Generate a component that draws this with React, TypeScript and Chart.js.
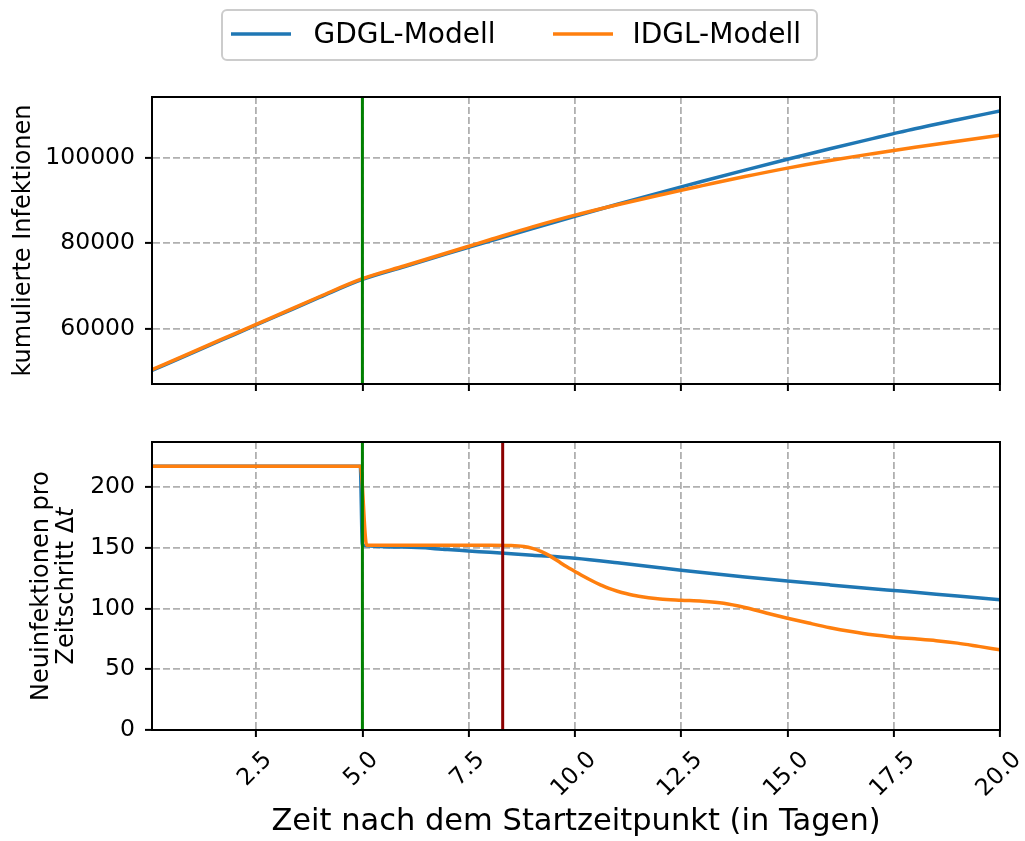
import React, { useEffect, useRef } from "react";
import { Chart, registerables } from "chart.js";

Chart.register(...registerables);

// ---------- data ----------
const X_MIN = 0.05;
const X_MAX = 20;
const X_TICKS = [2.5, 5, 7.5, 10, 12.5, 15, 17.5, 20];

const TOP_Y_MIN = 47070;
const TOP_Y_MAX = 114270;
const TOP_Y_TICKS = [60000, 80000, 100000];

const BOT_Y_MIN = 0;
const BOT_Y_MAX = 237;
const BOT_Y_TICKS = [0, 50, 100, 150, 200];

const SERIES_NAMES = ["GDGL-Modell", "IDGL-Modell"];
const SERIES_COLORS = ["#1f77b4", "#ff7f0e"];

const MARKER_X = [5, 8.3];
const MARKER_COLORS = ["#008000", "#8b0000"];

const X_TITLE = "Zeit nach dem Startzeitpunkt (in Tagen)";
const TOP_Y_TITLE = "kumulierte Infektionen";
const BOT_Y_TITLE_1 = "Neuinfektionen pro";
const BOT_Y_TITLE_2 = ["Zeitschritt Δ", "t"]; // second part in italic (math)

// cumulative infections
const CUM_X = [0.05, 1, 2, 2.5, 3, 4, 5, 6, 7, 7.5, 8, 9, 10, 11, 12, 12.5, 13, 14, 15, 16, 17, 17.5, 18, 19, 20];
const CUM_GDGL = [50250, 54370, 58710, 60880, 63050, 67390, 71560, 74590, 77590, 79080, 80560, 83470, 86350, 89160, 91890, 93230, 94550, 97140, 99680, 102150, 104520, 105700, 106850, 108950, 111000];
const CUM_IDGL = [50420, 54540, 58880, 61050, 63220, 67560, 71720, 74760, 77800, 79320, 80840, 83850, 86600, 89050, 91330, 92450, 93520, 95640, 97620, 99400, 101000, 101760, 102480, 103900, 105300];

// new infections per time step
const RATE_GDGL_X = [0.05, 4.95, 5.0, 6, 7, 7.5, 8, 9, 10, 11, 12, 12.5, 13, 14, 15, 16, 17, 17.5, 18, 19, 20];
const RATE_GDGL = [217, 217, 152, 150.5, 148.5, 147.3, 146.2, 143.8, 141.3, 137.6, 133.5, 131.5, 129.6, 126, 122.6, 119.4, 116.3, 114.8, 113.3, 110.2, 107.2];
const RATE_IDGL_X = [0.05, 4.95, 5.1, 6, 7, 8, 8.5, 8.8, 9.0, 9.2, 9.4, 9.6, 9.8, 10, 10.2, 10.4, 10.6, 10.8, 11, 11.2, 11.5, 12, 12.5, 13, 13.5, 14, 14.5, 15, 15.5, 16, 16.5, 17, 17.5, 18, 18.5, 19, 19.5, 20];
const RATE_IDGL = [217, 217, 152, 152, 152, 152, 151.8, 151, 149.5, 147, 143.5, 139, 134.5, 130.5, 126.5, 122.8, 119.5, 116.5, 114.2, 112.3, 110, 107.8, 106.8, 106, 104.3, 100.8, 96.3, 92, 88, 84.2, 81, 78.3, 76.4, 75, 73.5, 71.5, 68.8, 66];

// ---------- helpers ----------
const FONT = "'DejaVu Sans', sans-serif";
const TICK_SIZE = 23.5;
const LABEL_SIZE = 24;

const zip = (xs: number[], ys: number[]) => xs.map((x, i) => ({ x, y: ys[i] }));

const framePlugin = {
  id: "frame",
  afterDraw(chart: any) {
    const { ctx, chartArea: a } = chart;
    ctx.save();
    ctx.strokeStyle = "#000";
    ctx.lineWidth = 2;
    ctx.strokeRect(a.left, a.top, a.right - a.left, a.bottom - a.top);
    ctx.restore();
  },
};

const legendPlugin = {
  id: "figLegend",
  afterDraw(chart: any) {
    const ctx = chart.ctx;
    const items = chart.data.datasets.filter((d: any) => d.label);
    ctx.save();
    ctx.beginPath();
    ctx.roundRect(222, 10, 595, 50, 5);
    ctx.fillStyle = "rgba(255,255,255,0.8)";
    ctx.fill();
    ctx.strokeStyle = "#cccccc";
    ctx.lineWidth = 2;
    ctx.stroke();
    const lineX = [231, 553];
    const textX = [313.5, 632.5];
    items.forEach((d: any, i: number) => {
      ctx.beginPath();
      ctx.strokeStyle = d.borderColor;
      ctx.lineWidth = 3.5;
      ctx.moveTo(lineX[i], 34);
      ctx.lineTo(lineX[i] + 60, 34);
      ctx.stroke();
      ctx.fillStyle = "#000";
      ctx.font = `28px ${FONT}`;
      ctx.textBaseline = "alphabetic";
      ctx.textAlign = "left";
      ctx.fillText(d.label, textX[i], 43.3);
    });
    ctx.restore();
  },
};

// x tick labels rotated 45° about their centre (matplotlib style)
const xTickLabelPlugin = {
  id: "xTickLabels",
  afterDraw(chart: any) {
    const { ctx, chartArea } = chart;
    const scale = chart.scales.x;
    ctx.save();
    ctx.font = `${TICK_SIZE}px ${FONT}`;
    ctx.fillStyle = "#000";
    ctx.textAlign = "center";
    ctx.textBaseline = "middle";
    const h = TICK_SIZE;
    const yTop = chartArea.bottom + 17.7;
    X_TICKS.forEach((v) => {
      const label = v.toFixed(1);
      const w = ctx.measureText(label).width;
      const cx = scale.getPixelForValue(v) - 1;
      const cy = yTop + (w + h) * Math.SQRT1_2 / 2;
      ctx.save();
      ctx.translate(cx, cy);
      ctx.rotate(-Math.PI / 4);
      ctx.fillText(label, 0, 0);
      ctx.restore();
    });
    ctx.restore();
  },
};

// two-line y label of the lower panel, with italic t
const botYLabelPlugin = {
  id: "botYLabel",
  afterDraw(chart: any) {
    const { ctx, chartArea } = chart;
    const cy = (chartArea.top + chartArea.bottom) / 2;
    const normal = `${LABEL_SIZE}px ${FONT}`;
    const italic = `italic ${LABEL_SIZE}px ${FONT}`;
    ctx.save();
    ctx.fillStyle = "#000";
    ctx.textBaseline = "middle";
    // line 1
    ctx.save();
    ctx.translate(41.7, cy);
    ctx.rotate(-Math.PI / 2);
    ctx.font = normal;
    ctx.textAlign = "center";
    ctx.fillText(BOT_Y_TITLE_1, 0, 0);
    ctx.restore();
    // line 2
    ctx.save();
    ctx.translate(66.7, cy);
    ctx.rotate(-Math.PI / 2);
    ctx.textAlign = "left";
    ctx.font = normal;
    const w1 = ctx.measureText(BOT_Y_TITLE_2[0]).width;
    ctx.font = italic;
    const w2 = ctx.measureText(BOT_Y_TITLE_2[1]).width;
    const start = -(w1 + w2) / 2;
    ctx.font = normal;
    ctx.fillText(BOT_Y_TITLE_2[0], start, 0);
    ctx.font = italic;
    ctx.fillText(BOT_Y_TITLE_2[1], start + w1, 0);
    ctx.restore();
    ctx.restore();
  },
};

const gridOpts = {
  color: "#b0b0b0",
  lineWidth: 1.8,
  tickLength: 7,
  tickColor: "#000",
  tickWidth: 2,
  tickBorderDash: [],
};
const borderOpts = { display: true, color: "#000", width: 2, dash: [7, 3] };

function seriesDatasets(xsA: number[], ysA: number[], xsB: number[], ysB: number[]) {
  return [
    {
      label: SERIES_NAMES[0],
      data: zip(xsA, ysA),
      borderColor: SERIES_COLORS[0],
      backgroundColor: SERIES_COLORS[0],
      borderWidth: 3.5,
      pointRadius: 0,
      cubicInterpolationMode: "monotone",
      order: 2,
    },
    {
      label: SERIES_NAMES[1],
      data: zip(xsB, ysB),
      borderColor: SERIES_COLORS[1],
      backgroundColor: SERIES_COLORS[1],
      borderWidth: 3.5,
      pointRadius: 0,
      cubicInterpolationMode: "monotone",
      order: 1,
    },
  ];
}

function markerDatasets(count: number, yMin: number, yMax: number) {
  return MARKER_X.slice(0, count).map((x, i) => ({
    data: [
      { x, y: yMin },
      { x, y: yMax },
    ],
    borderColor: MARKER_COLORS[i],
    borderWidth: 3,
    pointRadius: 0,
    order: 0,
  }));
}

function yAxis(min: number, max: number, ticks: number[], title: any) {
  return {
    type: "linear",
    min,
    max,
    afterBuildTicks: (s: any) => {
      s.ticks = ticks.map((v) => ({ value: v }));
    },
    afterFit: (s: any) => {
      s.width = 152;
      s.paddingTop = 0;
      s.paddingBottom = 0;
    },
    ticks: {
      font: { family: FONT, size: TICK_SIZE },
      color: "#000",
      padding: 10,
      callback: (v: any) => String(v),
    },
    title: title
      ? {
          display: true,
          text: title,
          color: "#000",
          font: { family: FONT, size: LABEL_SIZE, lineHeight: 1.2 },
          padding: { top: 9.3, bottom: 0 },
        }
      : { display: false },
    grid: gridOpts,
    border: borderOpts,
  };
}

function xAxis(height: number, extra: any) {
  return {
    type: "linear",
    min: X_MIN,
    max: X_MAX,
    afterBuildTicks: (s: any) => {
      s.ticks = X_TICKS.map((v) => ({ value: v }));
    },
    afterFit: (s: any) => {
      s.height = height;
      s.paddingLeft = 0;
      s.paddingRight = 0;
    },
    ticks: { display: false },
    grid: gridOpts,
    border: borderOpts,
    ...extra,
  };
}

export default function App() {
  const topRef = useRef<HTMLCanvasElement | null>(null);
  const botRef = useRef<HTMLCanvasElement | null>(null);

  useEffect(() => {
    const top = new Chart(topRef.current as HTMLCanvasElement, {
      type: "line",
      data: {
        datasets: [
          ...markerDatasets(1, TOP_Y_MIN, TOP_Y_MAX),
          ...seriesDatasets(CUM_X, CUM_GDGL, CUM_X, CUM_IDGL),
        ] as any,
      },
      options: {
        responsive: false,
        animation: false,
        events: [],
        layout: { padding: { top: 97, right: 25, left: 0, bottom: 0 } },
        plugins: { legend: { display: false }, tooltip: { enabled: false } },
        scales: {
          x: xAxis(36, {}),
          y: yAxis(TOP_Y_MIN, TOP_Y_MAX, TOP_Y_TICKS, TOP_Y_TITLE),
        } as any,
      },
      plugins: [framePlugin, legendPlugin],
    });

    const bot = new Chart(botRef.current as HTMLCanvasElement, {
      type: "line",
      data: {
        datasets: [
          ...markerDatasets(2, BOT_Y_MIN, BOT_Y_MAX),
          ...seriesDatasets(RATE_GDGL_X, RATE_GDGL, RATE_IDGL_X, RATE_IDGL),
        ] as any,
      },
      options: {
        responsive: false,
        animation: false,
        events: [],
        layout: { padding: { top: 22, right: 25, left: 0, bottom: 0 } },
        plugins: { legend: { display: false }, tooltip: { enabled: false } },
        scales: {
          x: xAxis(111, {
            title: {
              display: true,
              text: X_TITLE,
              color: "#000",
              font: { family: FONT, size: 30.5, lineHeight: 1.2 },
              padding: { top: 0, bottom: 0.8 },
            },
          }),
          y: yAxis(BOT_Y_MIN, BOT_Y_MAX, BOT_Y_TICKS, null),
        } as any,
      },
      plugins: [framePlugin, xTickLabelPlugin, botYLabelPlugin],
    });

    return () => {
      top.destroy();
      bot.destroy();
    };
  }, []);

  return (
    <div style={{ position: "absolute", left: 0, top: 0, width: 1025, height: 841, background: "#fff" }}>
      <canvas ref={topRef} width={1025} height={420} style={{ position: "absolute", left: 0, top: 0, display: "block" }} />
      <canvas ref={botRef} width={1025} height={421} style={{ position: "absolute", left: 0, top: 420, display: "block" }} />
    </div>
  );
}
